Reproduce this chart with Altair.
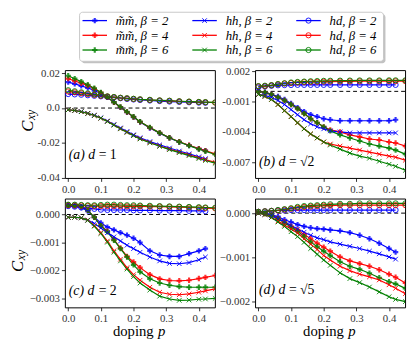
import altair as alt
import pandas as pd

# ---------------- data ----------------
P = [0.00, 0.02, 0.04, 0.06, 0.08, 0.10, 0.12, 0.14, 0.16, 0.18, 0.20,
     0.22, 0.25, 0.28, 0.31, 0.34, 0.37, 0.40, 0.42, 0.45, 0.47]

TYPES = ["mm", "hh", "hd"]
BETAS = ["2", "4", "6"]
COLORS = ["#0000ff", "#ff0000", "#008000"]
LEGEND_NAMES = {"mm": "m\u0303m\u0303", "hh": "hh", "hd": "hd"}
X_TICKS = [0.0, 0.1, 0.2, 0.3, 0.4]

# panel (a) d = 1
A = {
    "mm2": [0.0148, 0.0138, 0.0127, 0.0115, 0.0100, 0.0083, 0.0062, 0.0033, 0.0004, -0.0024, -0.0052, -0.0080, -0.0114, -0.0144, -0.0171, -0.0194, -0.0214, -0.0233, -0.0244, None, None],
    "mm4": [0.0168, 0.0155, 0.0142, 0.0128, 0.0110, 0.0088, 0.0062, 0.0033, 0.0005, -0.0023, -0.0051, -0.0079, -0.0112, -0.0142, -0.0170, -0.0193, -0.0213, -0.0232, -0.0244, -0.0262, -0.0272],
    "mm6": [0.0185, 0.0168, 0.0151, 0.0133, 0.0113, 0.0089, 0.0062, 0.0034, 0.0006, -0.0022, -0.0050, -0.0078, -0.0111, -0.0142, -0.0170, -0.0194, -0.0215, -0.0235, -0.0247, -0.0265, -0.0275],
    "hh2": [-0.0010, -0.0014, -0.0020, -0.0030, -0.0041, -0.0056, -0.0074, -0.0094, -0.0114, -0.0134, -0.0153, -0.0170, -0.0192, -0.0211, -0.0229, -0.0246, -0.0262, -0.0279, -0.0290, None, None],
    "hh4": [-0.0010, -0.0014, -0.0021, -0.0031, -0.0043, -0.0058, -0.0076, -0.0097, -0.0118, -0.0138, -0.0157, -0.0175, -0.0197, -0.0217, -0.0235, -0.0252, -0.0268, -0.0285, -0.0295, -0.0311, -0.0320],
    "hh6": [-0.0010, -0.0014, -0.0021, -0.0031, -0.0043, -0.0058, -0.0077, -0.0098, -0.0119, -0.0139, -0.0158, -0.0177, -0.0199, -0.0219, -0.0238, -0.0255, -0.0272, -0.0289, -0.0300, -0.0316, -0.0326],
    "hd2": [0.0080, 0.0078, 0.0076, 0.0073, 0.0070, 0.0067, 0.0064, 0.0060, 0.0056, 0.0052, 0.0049, 0.0046, 0.0043, 0.0040, 0.0037, 0.0035, 0.0033, 0.0031, 0.0030, None, None],
    "hd4": [0.0095, 0.0090, 0.0085, 0.0080, 0.0075, 0.0070, 0.0066, 0.0062, 0.0058, 0.0055, 0.0052, 0.0049, 0.0046, 0.0043, 0.0041, 0.0038, 0.0036, 0.0034, 0.0033, 0.0031, 0.0030],
    "hd6": [0.0102, 0.0096, 0.0090, 0.0084, 0.0078, 0.0072, 0.0067, 0.0063, 0.0059, 0.0056, 0.0053, 0.0050, 0.0047, 0.0044, 0.0042, 0.0039, 0.0037, 0.0035, 0.0034, 0.0032, 0.0031],
}

# panel (b) d = sqrt(2)
B = {
    "mm2": [0.0000, -0.0001, -0.0003, -0.0005, -0.0008, -0.0012, -0.0016, -0.0020, -0.0023, -0.0025, -0.0027, -0.0028, -0.0029, -0.0029, -0.0029, -0.0029, -0.0029, -0.0029, -0.0028, None, None],
    "mm4": [0.0000, -0.0001, -0.0003, -0.0006, -0.0009, -0.0013, -0.0017, -0.0022, -0.0027, -0.0031, -0.0035, -0.0038, -0.0040, -0.0043, -0.0045, -0.0047, -0.0048, -0.0050, -0.0051, -0.0054, -0.0056],
    "mm6": [0.0000, -0.0001, -0.0003, -0.0006, -0.0009, -0.0013, -0.0017, -0.0022, -0.0027, -0.0031, -0.0035, -0.0039, -0.0043, -0.0046, -0.0049, -0.0052, -0.0054, -0.0056, -0.0058, -0.0062, -0.0064],
    "hh2": [-0.0003, -0.0004, -0.0006, -0.0009, -0.0013, -0.0018, -0.0023, -0.0028, -0.0032, -0.0035, -0.0037, -0.0039, -0.0040, -0.0041, -0.0041, -0.0041, -0.0041, -0.0041, -0.0041, None, None],
    "hh4": [-0.0003, -0.0005, -0.0008, -0.0013, -0.0019, -0.0025, -0.0031, -0.0037, -0.0042, -0.0046, -0.0050, -0.0052, -0.0054, -0.0056, -0.0058, -0.0060, -0.0062, -0.0064, -0.0065, -0.0068, -0.0070],
    "hh6": [-0.0003, -0.0005, -0.0008, -0.0013, -0.0019, -0.0025, -0.0031, -0.0037, -0.0042, -0.0046, -0.0050, -0.0053, -0.0057, -0.0061, -0.0064, -0.0066, -0.0069, -0.0072, -0.0074, -0.0078, -0.0080],
    "hd2": [0.00040, 0.00048, 0.00055, 0.00060, 0.00062, 0.00063, 0.00064, 0.00064, 0.00064, 0.00064, 0.00064, 0.00064, 0.00064, 0.00064, 0.00064, 0.00064, 0.00064, 0.00064, 0.00064, None, None],
    "hd4": [0.00050, 0.00052, 0.00060, 0.00070, 0.00078, 0.00083, 0.00088, 0.00091, 0.00093, 0.00095, 0.00096, 0.00097, 0.00098, 0.00099, 0.00100, 0.00100, 0.00100, 0.00101, 0.00101, 0.00101, 0.00101],
    "hd6": [0.00052, 0.00056, 0.00062, 0.00072, 0.00080, 0.00088, 0.00093, 0.00097, 0.00100, 0.00102, 0.00104, 0.00105, 0.00106, 0.00107, 0.00108, 0.00108, 0.00108, 0.00109, 0.00109, 0.00109, 0.00109],
}

# panel (c) d = 2
C = {
    "mm2": [0.00032, 0.00030, 0.00025, 0.00012, -0.00010, -0.00030, -0.00045, -0.00055, -0.00065, -0.00074, -0.00085, -0.00100, -0.00130, -0.00145, -0.00150, -0.00150, -0.00140, -0.00130, -0.00122, None, None],
    "mm4": [0.00033, 0.00032, 0.00028, 0.00015, -0.00010, -0.00040, -0.00060, -0.00090, -0.00120, -0.00150, -0.00170, -0.00190, -0.00215, -0.00230, -0.00236, -0.00237, -0.00235, -0.00229, -0.00225, -0.00218, -0.00213],
    "mm6": [0.00033, 0.00032, 0.00028, 0.00015, -0.00010, -0.00040, -0.00062, -0.00092, -0.00122, -0.00152, -0.00180, -0.00205, -0.00230, -0.00245, -0.00253, -0.00258, -0.00260, -0.00260, -0.00260, -0.00260, -0.00260],
    "hh2": [-0.00010, -0.00010, -0.00012, -0.00020, -0.00032, -0.00048, -0.00065, -0.00080, -0.00095, -0.00110, -0.00122, -0.00135, -0.00152, -0.00166, -0.00175, -0.00176, -0.00172, -0.00162, -0.00152, None, None],
    "hh4": [-0.00010, -0.00010, -0.00012, -0.00020, -0.00040, -0.00065, -0.00095, -0.00130, -0.00160, -0.00190, -0.00215, -0.00235, -0.00260, -0.00278, -0.00285, -0.00287, -0.00284, -0.00278, -0.00273, -0.00266, -0.00260],
    "hh6": [-0.00010, -0.00010, -0.00012, -0.00021, -0.00042, -0.00068, -0.00099, -0.00135, -0.00166, -0.00195, -0.00222, -0.00245, -0.00270, -0.00292, -0.00302, -0.00307, -0.00306, -0.00303, -0.00302, -0.00300, -0.00300],
    "hd2": [0.00030, 0.00028, 0.00025, 0.00022, 0.00020, 0.00017, 0.00016, 0.00016, 0.00016, 0.00016, 0.00015, 0.00015, 0.00015, 0.00014, 0.00014, 0.00014, 0.00013, 0.00013, 0.00012, None, None],
    "hd4": [0.00033, 0.00033, 0.00032, 0.00031, 0.00030, 0.00030, 0.00030, 0.00030, 0.00030, 0.00029, 0.00029, 0.00029, 0.00028, 0.00028, 0.00027, 0.00026, 0.00025, 0.00024, 0.00023, 0.00022, 0.00022],
    "hd6": [0.00035, 0.00035, 0.00034, 0.00033, 0.00033, 0.00034, 0.00035, 0.00035, 0.00034, 0.00033, 0.00033, 0.00032, 0.00031, 0.00030, 0.00029, 0.00028, 0.00027, 0.00026, 0.00025, 0.00024, 0.00023],
}

# panel (d) d = sqrt(5)
D = {
    "mm2": [0.00002, 0.00000, -0.00003, -0.00008, -0.00015, -0.00020, -0.00026, -0.00030, -0.00033, -0.00035, -0.00036, -0.00038, -0.00040, -0.00044, -0.00050, -0.00058, -0.00068, -0.00080, -0.00088, None, None],
    "mm4": [0.00002, -0.00001, -0.00005, -0.00012, -0.00020, -0.00030, -0.00038, -0.00048, -0.00058, -0.00068, -0.00077, -0.00086, -0.00099, -0.00108, -0.00114, -0.00120, -0.00128, -0.00138, -0.00145, -0.00158, -0.00165],
    "mm6": [0.00002, -0.00001, -0.00005, -0.00013, -0.00022, -0.00032, -0.00041, -0.00053, -0.00065, -0.00076, -0.00086, -0.00096, -0.00110, -0.00120, -0.00127, -0.00136, -0.00146, -0.00155, -0.00160, -0.00170, -0.00175],
    "hh2": [0.00000, -0.00002, -0.00006, -0.00012, -0.00020, -0.00028, -0.00036, -0.00043, -0.00050, -0.00056, -0.00060, -0.00065, -0.00070, -0.00075, -0.00080, -0.00086, -0.00092, -0.00099, -0.00104, None, None],
    "hh4": [0.00000, -0.00003, -0.00010, -0.00018, -0.00027, -0.00036, -0.00045, -0.00058, -0.00070, -0.00082, -0.00096, -0.00106, -0.00120, -0.00130, -0.00138, -0.00144, -0.00151, -0.00162, -0.00170, -0.00182, -0.00190],
    "hh6": [0.00000, -0.00003, -0.00010, -0.00020, -0.00030, -0.00042, -0.00053, -0.00066, -0.00080, -0.00093, -0.00106, -0.00118, -0.00135, -0.00148, -0.00157, -0.00167, -0.00178, -0.00189, -0.00195, -0.00200, -0.00200],
    "hd2": [0.00003, 0.00004, 0.00005, 0.00006, 0.00006, 0.00007, 0.00007, 0.00007, 0.00007, 0.00007, 0.00007, 0.00007, 0.00007, 0.00007, 0.00007, 0.00007, 0.00007, 0.00007, 0.00007, None, None],
    "hd4": [0.00003, 0.00004, 0.00005, 0.00006, 0.00008, 0.00010, 0.00012, 0.00014, 0.00015, 0.00016, 0.00017, 0.00017, 0.00018, 0.00018, 0.00018, 0.00018, 0.00018, 0.00018, 0.00018, 0.00018, 0.00018],
    "hd6": [0.00003, 0.00004, 0.00005, 0.00007, 0.00009, 0.00011, 0.00014, 0.00016, 0.00017, 0.00018, 0.00019, 0.00020, 0.00021, 0.00021, 0.00022, 0.00022, 0.00022, 0.00022, 0.00022, 0.00022, 0.00022],
}

# ---------------- styling / layout ----------------
SERIF = "Liberation Serif"
XSHAPE = "M-1,-1L1,1M-1,1L1,-1"
W = 153
ONE = pd.DataFrame({"k": [0]})
X_DOMAIN = [-0.0102, 0.449]


def series_df(series):
    rows = []
    for t in TYPES:
        for b in BETAS:
            for p, v in zip(P, series[t + b]):
                if v is not None:
                    rows.append({"p": p, "v": v, "type": t, "beta": b})
    return pd.DataFrame(rows)


def txt(s, x, y, size, style="normal", angle=0, align="left"):
    return alt.Chart(ONE).mark_text(
        text=s, font=SERIF, fontSize=size, fontStyle=style, angle=angle,
        align=align, baseline="alphabetic", color="black"
    ).encode(x=alt.value(x), y=alt.value(y))


def marker(t, color=None, **kw):
    if t == "mm":
        args = dict(shape="cross", filled=True, size=30, opacity=0.8)
    elif t == "hh":
        args = dict(shape=XSHAPE, filled=False, size=22, strokeWidth=1, opacity=0.9)
    else:
        args = dict(shape="circle", filled=False, size=28, strokeWidth=1, opacity=0.9)
    if color is not None:
        args["color"] = color
    args.update(kw)
    return args


def data_layers(series, ydom, yticks, label_expr):
    df = series_df(series)
    x = alt.X("p:Q", scale=alt.Scale(domain=X_DOMAIN, nice=False, zero=False),
              axis=alt.Axis(values=X_TICKS, tickCount=20, format=".1f", title=None,
                            labelOverlap=False))
    y = alt.Y("v:Q", scale=alt.Scale(domain=ydom, nice=False, zero=False),
              axis=alt.Axis(values=yticks, tickCount=20, labelExpr=label_expr, title=None,
                            labelOverlap=False, labelFlush=False))
    color = alt.Color("beta:N", scale=alt.Scale(domain=BETAS, range=COLORS), legend=None)
    base = alt.Chart(df).encode(x=x, y=y, color=color)
    zero = alt.Chart(ONE).mark_rule(color="black", strokeDash=[4, 3], strokeWidth=1).encode(y=alt.datum(0))
    lines = base.mark_line(strokeWidth=1.2, clip=True).encode(detail="type:N")
    pts = [base.transform_filter(f"datum.type == '{t}'").mark_point(clip=True, **marker(t)) for t in TYPES]
    return [zero, lines] + pts


def panel_label(letter, rhs, y):
    return [txt(f"({letter}) d", 4, y, 14, "italic"), txt(rhs, 34.5, y, 14)]


def cxy(xb, yb):
    return [txt("C", xb, yb, 17, "italic", angle=270),
            txt("xy", xb + 2.5, yb - 12, 12, "italic", angle=270)]


def doping():
    return [txt("doping", 49, 140, 15), txt("p", 95, 140, 15, "italic")]


def legend_layers():
    out = [
        alt.Chart(ONE).mark_rect(fill="#9a9a9a", opacity=0.6, cornerRadius=3).encode(
            x=alt.value(17), x2=alt.value(327), y=alt.value(-57), y2=alt.value(-7)),
        alt.Chart(ONE).mark_rect(fill="white", stroke="#c8c8c8", strokeWidth=1, cornerRadius=3).encode(
            x=alt.value(15), x2=alt.value(325), y=alt.value(-59), y2=alt.value(-9)),
    ]
    col_x = [18, 130, 236]
    row_y = [-50.5, -35.5, -20.5]
    for ci, t in enumerate(TYPES):
        for ri, b in enumerate(BETAS):
            x0, yy, col = col_x[ci], row_y[ri], COLORS[ri]
            out.append(alt.Chart(ONE).mark_rule(color=col, strokeWidth=1.3).encode(
                x=alt.value(x0), x2=alt.value(x0 + 25), y=alt.value(yy)))
            out.append(alt.Chart(ONE).mark_point(**marker(t, color=col)).encode(
                x=alt.value(x0 + 12.5), y=alt.value(yy)))
            out.append(txt(f"{LEGEND_NAMES[t]},  \u03b2 = {b}", x0 + 34, yy + 4.5, 13, "italic"))
    return out


LBL_A = "datum.value == 0 ? '0.0' : (datum.value < 0 ? '-' : '') + format(abs(datum.value), '.2f')"
LBL_B = "(datum.value < 0 ? '-' : '') + format(abs(datum.value), '.3f')"
LBL_CD = "(datum.value < 0 ? '\u2212' : '') + format(abs(datum.value), '.3f')"

pa = alt.layer(
    *legend_layers(),
    *data_layers(A, [-0.04, 0.0217], [-0.04, -0.02, 0.0, 0.02], LBL_A),
    *panel_label("a", "= 1", 91),
    *cxy(-33, 63),
).properties(width=W, height=110)

pb = alt.layer(
    *data_layers(B, [-0.00855, 0.0021], [-0.007, -0.004, -0.001, 0.002], LBL_B),
    *panel_label("b", "= \u221a2", 98),
).properties(width=W, height=110)

pc = alt.layer(
    *data_layers(C, [-0.00332, 0.00057], [-0.003, -0.002, -0.001, 0.0], LBL_CD),
    *panel_label("c", "= 2", 98),
    *cxy(-43, 75),
    *doping(),
).properties(width=W, height=111)

pd_ = alt.layer(
    *data_layers(D, [-0.00213, 0.00033], [-0.002, -0.001, 0.0], LBL_CD),
    *panel_label("d", "= \u221a5", 97),
    *doping(),
).properties(width=W, height=111)

chart = alt.concat(
    pa, pb, pc, pd_, columns=2, spacing={"row": 21, "column": 41}, bounds="flush"
).properties(
    padding={"left": 0, "top": 0, "right": 2, "bottom": 0}
).configure_view(
    stroke="black", strokeWidth=1
).configure_axis(
    labelFont=SERIF, labelFontSize=11, labelColor="#333", tickColor="black",
    tickSize=3.5, tickWidth=0.8, domain=False, grid=False, labelPadding=2,
    labelOverlap=False
)

chart.save("out.html", embed_options={"renderer": "svg", "actions": False})
